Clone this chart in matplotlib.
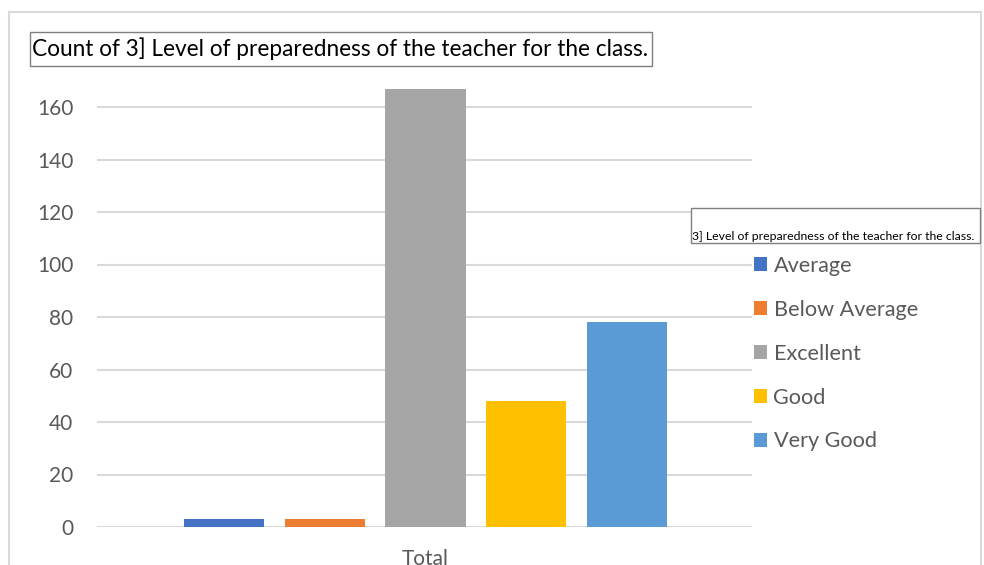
import matplotlib
matplotlib.use("Agg")
import matplotlib.pyplot as plt
from matplotlib.patches import Rectangle, Patch

plt.rcParams['font.family'] = ['Lato', 'DejaVu Sans']

# data
categories = ["Average", "Below Average", "Excellent", "Good", "Very Good"]
counts = [3, 3, 167, 48, 78]
colors = ["#4472C4", "#ED7D31", "#A5A5A5", "#FFC000", "#5B9BD5"]
yticks = [0, 20, 40, 60, 80, 100, 120, 140, 160]

W, H = 984, 565
fig = plt.figure(figsize=(W / 100, H / 100), dpi=100)

def fx(px):
    return px / W

def fy(py):
    return 1 - py / H

ax = fig.add_axes([fx(97), fy(527), fx(752) - fx(97), fy(54.5) - fy(527)])

for i, (c, v, col) in enumerate(zip(categories, counts, colors)):
    ax.bar(i, v, width=0.795, color=col, label=c, zorder=3)

ax.set_xlim(-1.26, 5.24)
ax.set_ylim(0, 180)
ax.set_yticks(yticks)
ax.set_xticks([2])
ax.set_xticklabels(["Total"])
ax.tick_params(axis='both', length=0, labelsize=15, colors="#595959")
ax.tick_params(axis='y', pad=17)
ax.tick_params(axis='x', pad=16)
ax.grid(axis='y', color="#D9D9D9", linewidth=1.5, zorder=0)
for s in ax.spines.values():
    s.set_visible(False)

# outer chart frame
fig.patches.append(Rectangle((fx(9), fy(600)), fx(972), fy(12) - fy(600),
                             transform=fig.transFigure, fill=False,
                             edgecolor="#D9D9D9", linewidth=1.5))

# chart title box
fig.patches.append(Rectangle((fx(30), fy(66)), fx(622), fy(32) - fy(66),
                             transform=fig.transFigure, facecolor="white",
                             edgecolor="#7F7F7F", linewidth=1, zorder=5))
fig.text(fx(32), fy(49), "Count of 3] Level of preparedness of the teacher for the class.",
         fontsize=16.3, color="black", va='center', ha='left', zorder=6)

# legend title box
fig.patches.append(Rectangle((fx(691), fy(243)), fx(289), fy(208) - fy(243),
                             transform=fig.transFigure, facecolor="white",
                             edgecolor="#7F7F7F", linewidth=1, zorder=5))
fig.text(fx(692), fy(237), "3] Level of preparedness of the teacher for the class.",
         fontsize=8.85, color="black", va='center', ha='left', zorder=6)

handles = [Patch(facecolor=col, edgecolor='none') for col in colors]
fig.legend(handles, categories, loc='upper left',
           bbox_to_anchor=(fx(754), fy(256)), frameon=False,
           fontsize=15.6, labelcolor="#595959", borderpad=0, borderaxespad=0,
           handlelength=0.6, handleheight=0.6, handletextpad=0.3,
           labelspacing=1.1)

fig.savefig("out.png", dpi=100)
